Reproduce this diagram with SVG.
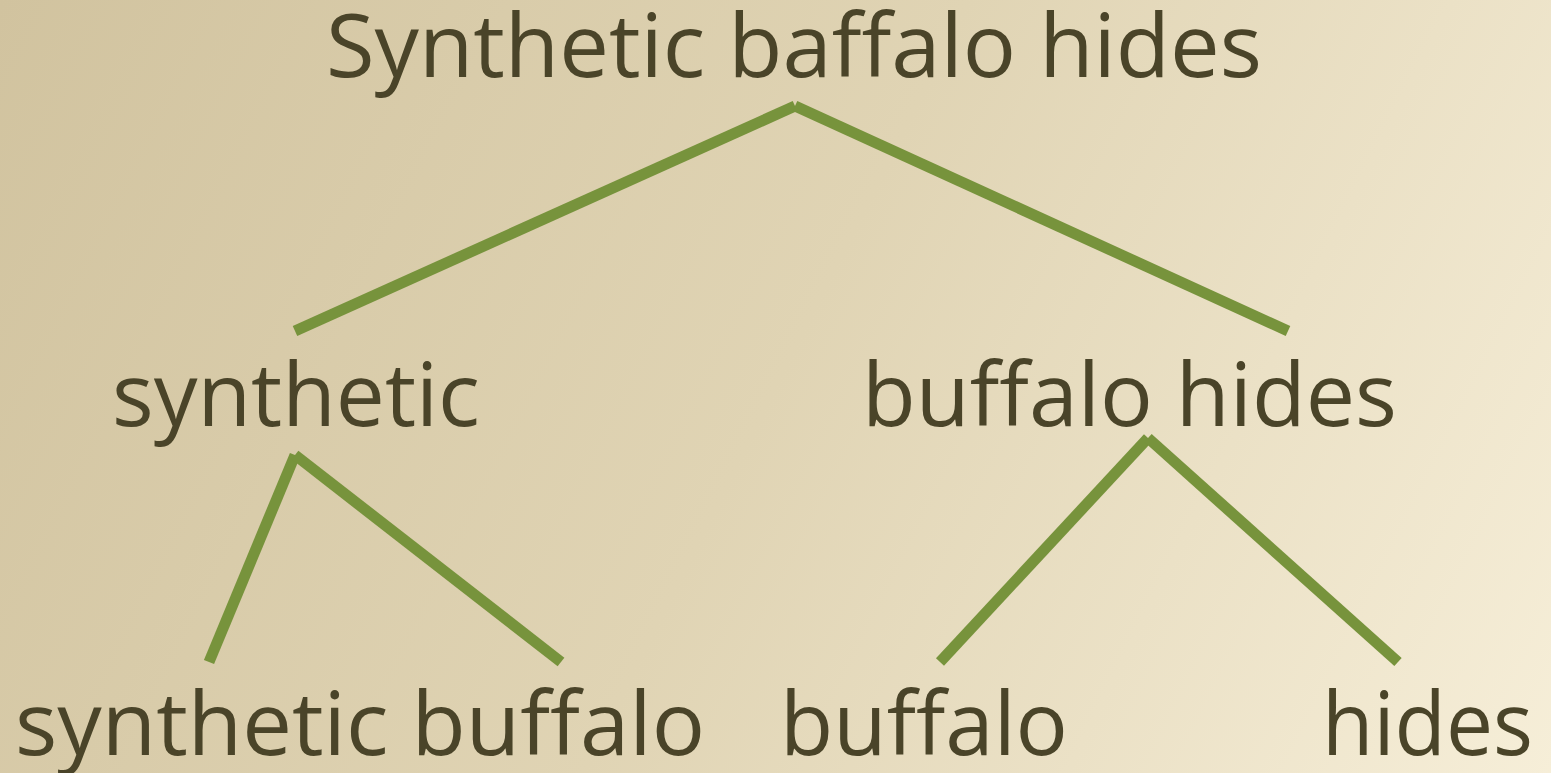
<svg xmlns="http://www.w3.org/2000/svg" width="1551" height="773" viewBox="0 0 1551 773">
<defs>
<linearGradient id="bg" x1="0" y1="0" x2="1551" y2="773" gradientUnits="userSpaceOnUse">
<stop offset="0" stop-color="#d1c39f"/>
<stop offset="0.5" stop-color="#e0d4b4"/>
<stop offset="1" stop-color="#f6eed8"/>
</linearGradient>
<style>
.t{font-family:"Open Sans","Noto Sans","DejaVu Sans",sans-serif;font-size:88px;fill:#4a4429}
.e{stroke:#77933c;stroke-width:11;stroke-linecap:butt;fill:none}
</style>
</defs>
<rect width="1551" height="773" fill="url(#bg)"/>
<g id="connectors">
<line class="e" x1="295" y1="331" x2="795" y2="106"/>
<line class="e" x1="795" y1="106" x2="1288" y2="331"/>
<line class="e" x1="295" y1="455" x2="209" y2="662"/>
<line class="e" x1="295" y1="455" x2="561" y2="662"/>
<line class="e" x1="1148" y1="438" x2="940" y2="662"/>
<line class="e" x1="1148" y1="438" x2="1398" y2="662"/>
</g>
<g id="root"><text class="t" x="326" y="77" textLength="936" lengthAdjust="spacingAndGlyphs">Synthetic baffalo hides</text></g>
<g id="synthetic"><text class="t" x="112" y="426" textLength="368" lengthAdjust="spacingAndGlyphs">synthetic</text></g>
<g id="buffalo-hides"><text class="t" x="862" y="426" textLength="535" lengthAdjust="spacingAndGlyphs">buffalo hides</text></g>
<g id="synthetic-buffalo"><text class="t" x="15" y="755" textLength="690" lengthAdjust="spacingAndGlyphs">synthetic buffalo</text></g>
<g id="buffalo"><text class="t" x="780" y="755" textLength="288" lengthAdjust="spacingAndGlyphs">buffalo</text></g>
<g id="hides"><text class="t" x="1322" y="755" textLength="211" lengthAdjust="spacingAndGlyphs">hides</text></g>
</svg>
